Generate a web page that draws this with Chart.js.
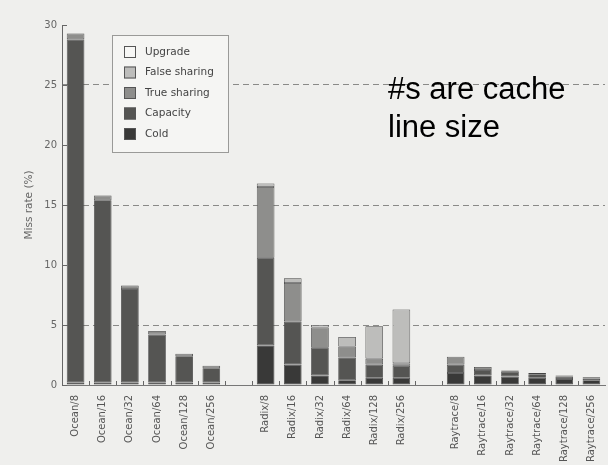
<!DOCTYPE html>
<html>
<head>
<meta charset="utf-8">
<script src="https://cdn.jsdelivr.net/npm/chart.js"></script>
<style>
    body { margin:0; background:#efefed; }
    #wrap { width:608px; height:465px; position:relative; }
</style>
</head>
<body>
<div id="wrap"><canvas id="missChart" width="608" height="465"></canvas></div>
<script>
    // categories, blank slots separate the three programs
    var labels = ['Ocean/8','Ocean/16','Ocean/32','Ocean/64','Ocean/128','Ocean/256','',
        'Radix/8','Radix/16','Radix/32','Radix/64','Radix/128','Radix/256','',
        'Raytrace/8','Raytrace/16','Raytrace/32','Raytrace/64','Raytrace/128','Raytrace/256'];

    // miss rate components (%)
    var cold         = [0.2,0.2,0.2,0.2,0.2,0.2,null, 3.3,1.7,0.8,0.4,0.6,0.6,null, 1.0,0.8,0.7,0.6,0.5,0.4];
    var capacity     = [28.6,15.2,7.8,4.0,2.2,1.2,null, 7.3,3.6,2.3,1.9,1.1,1.0,null, 0.7,0.45,0.4,0.3,0.2,0.15];
    var trueSharing  = [0.5,0.4,0.3,0.3,0.2,0.2,null, 5.9,3.2,1.7,0.9,0.5,0.2,null, 0.65,0.25,0.1,0.1,0.1,0.1];
    var falseSharing = [null,null,null,null,null,null,null, 0.3,0.4,null,0.8,2.7,4.5,null, null,null,null,null,null,null];
    var upgrade      = [null,null,null,null,null,null,null, null,null,0.2,null,null,null,null, null,null,null,null,null,null];

    var yTicks = [0,5,10,15,20,25,30];
    var dashedAt = [5,15,25];

    var legendNames = ['Upgrade','False sharing','True sharing','Capacity','Cold'];
    var legendColors = ['#f7f7f5','#bdbdbb','#8e8e8c','#555553','#393938'];

    function ds(name, data, color){
        return {
            label: name,
            data: data,
            backgroundColor: color,
            borderColor: '#444',
            borderWidth: 0.8,
            borderSkipped: false,
            categoryPercentage: 1,
            barPercentage: 0.65
        };
    }

    var extras = {
        id: 'extras',
        afterDatasetsDraw: function(chart){
            var ctx = chart.ctx;
            var area = chart.chartArea;
            var y = chart.scales.y;
            var x = chart.scales.x;
            ctx.save();
            // little ticks pointing into the plot
            ctx.strokeStyle = '#666';
            ctx.lineWidth = 1;
            for(var i = 0; i < yTicks.length; i++){
                var py = Math.round(y.getPixelForValue(yTicks[i])) + 0.5;
                ctx.beginPath();
                ctx.moveTo(area.left, py);
                ctx.lineTo(area.left + 5, py);
                ctx.stroke();
            }
            var half = (x.getPixelForValue(1) - x.getPixelForValue(0)) / 2;
            for(var j = 1; j < labels.length; j++){
                var px = Math.round(x.getPixelForValue(j) - half) + 0.5;
                ctx.beginPath();
                ctx.moveTo(px, area.bottom);
                ctx.lineTo(px, area.bottom - 4);
                ctx.stroke();
            }

            // legend box
            var bx = 112, by = 35, bw = 116, bh = 117;
            ctx.fillStyle = '#f5f5f3';
            ctx.fillRect(bx, by, bw, bh);
            ctx.strokeStyle = '#9a9a98';
            ctx.strokeRect(bx + 0.5, by + 0.5, bw, bh);
            ctx.font = '10.5px "DejaVu Sans"';
            ctx.textBaseline = 'middle';
            for(var k = 0; k < legendNames.length; k++){
                var cy = 52 + k * 20.5;
                ctx.fillStyle = legendColors[k];
                ctx.fillRect(124, cy - 6, 12, 12);
                ctx.strokeStyle = '#555';
                ctx.strokeRect(124.5, cy - 5.5, 11, 11);
                ctx.fillStyle = '#444';
                ctx.fillText(legendNames[k], 145, cy);
            }

            // note
            ctx.fillStyle = '#000';
            ctx.font = '31px "Liberation Sans"';
            ctx.textBaseline = 'alphabetic';
            ctx.fillText('#s are cache', 388, 99);
            ctx.fillText('line size', 388, 137);
            ctx.restore();
        }
    };

    new Chart(document.getElementById('missChart'), {
        type: 'bar',
        data: {
            labels: labels,
            datasets: [
                ds('Cold', cold, legendColors[4]),
                ds('Capacity', capacity, legendColors[3]),
                ds('True sharing', trueSharing, legendColors[2]),
                ds('False sharing', falseSharing, legendColors[1]),
                ds('Upgrade', upgrade, legendColors[0])
            ]
        },
        options: {
            responsive: false,
            animation: false,
            layout: { padding: { top: 25, right: 3, left: 0, bottom: 0 } },
            plugins: { legend: { display: false }, tooltip: { enabled: false } },
            scales: {
                x: {
                    stacked: true,
                    grid: { display: false },
                    border: { color: '#777' },
                    ticks: {
                        autoSkip: false, minRotation: 90, maxRotation: 90, padding: 2,
                        color: '#555', font: { family: 'DejaVu Sans', size: 10 }
                    },
                    afterFit: function(scale){ scale.height = 80; }
                },
                y: {
                    stacked: true,
                    min: 0, max: 30,
                    grid: {
                        drawTicks: false,
                        color: function(c){
                            return dashedAt.indexOf(c.tick.value) >= 0 ? '#8a8a88' : 'rgba(0,0,0,0)';
                        }
                    },
                    border: { color: '#666', dash: [6,4] },
                    ticks: {
                        stepSize: 5, padding: 5,
                        color: '#666', font: { family: 'DejaVu Sans', size: 10 }
                    },
                    title: {
                        display: true, text: 'Miss rate (%)', color: '#666',
                        font: { family: 'DejaVu Sans', size: 10.5 },
                        padding: { top: 23, bottom: 0 }
                    },
                    afterFit: function(scale){ scale.width = 62; }
                }
            }
        },
        plugins: [extras]
    });
</script>
</body>
</html>
